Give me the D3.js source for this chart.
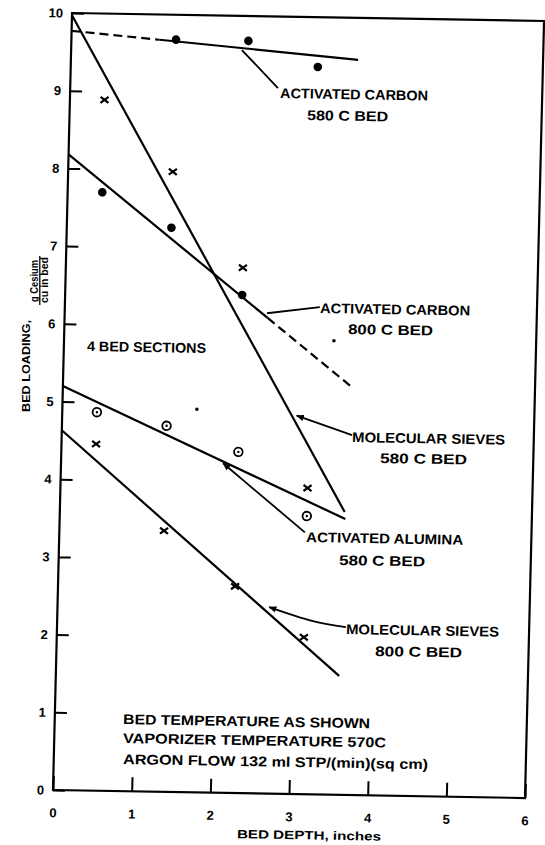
<!DOCTYPE html>
<html>
<head>
<meta charset="utf-8">
<script src="https://cdn.jsdelivr.net/npm/d3@7"></script>
<style>
body { margin: 0; background: #fff; }
text { font-family: "Liberation Sans", Arial, sans-serif; font-weight: bold; fill: #000; }
</style>
</head>
<body>
<div id="chart"></div>
<script>
// Bed section mid-depths (inches)
const depth = [0.44, 1.33, 2.25, 3.14];

// Bed loading, g Cesium / cu in bed (null = point not shown)
const carbon580 = [null, 9.68, 9.68, 9.36];
const carbon800 = [7.70, 7.26, 6.41, null];
const sieves580 = [8.89, 7.98, 6.76, 3.94];
const alumina580 = [4.87, 4.71, 4.39, 3.58];
const sieves800 = [4.46, 3.36, 2.66, 2.02];

// stray dots on the sheet
const strayX = [1.71, 3.43];
const strayY = [4.93, 5.84];

// drawn lines, [depth, loading] end points
const carbon580Dash = [[0, 9.77], [1.12, 9.675]];
const carbon580Line = [[1.12, 9.675], [3.65, 9.46]];
const carbon800Line = [[0, 8.18], [2.58, 6.12]];
const carbon800Dash = [[2.58, 6.12], [3.67, 5.25]];
const sieves580Line = [[0, 9.97], [3.62, 3.64]];
const alumina580Line = [[0, 5.20], [3.63, 3.55]];
const sieves800Line = [[0, 4.63], [3.60, 1.53]];

const xTicks = [0, 1, 2, 3, 4, 5, 6];
const yTicks = [0, 1, 2, 3, 4, 5, 6, 7, 8, 9, 10];

const W = 545, H = 845;
const pw = 472, ph = 777;

const svg = d3.select("#chart")
    .append("svg")
    .attr("width", W)
    .attr("height", H);

// the scanned sheet sits slightly askew
const g = svg.append("g")
    .attr("transform", `matrix(1,0.017,-0.0245,1,53,790) translate(0,${-ph})`);

const x = d3.scaleLinear().domain([0, 6]).range([0, pw]);
const y = d3.scaleLinear().domain([0, 10]).range([ph, 0]);

// frame
g.append("rect")
    .attr("width", pw)
    .attr("height", ph)
    .attr("fill", "none")
    .attr("stroke", "#000")
    .attr("stroke-width", 2.2);

// X Axis
g.append("g")
    .attr("transform", `translate(0,${ph})`)
    .call(d3.axisBottom(x).tickValues(xTicks).tickSize(-14).tickPadding(18).tickFormat(d3.format("d")))
    .call(a => a.select(".domain").remove())
    .call(a => a.selectAll("line").attr("stroke-width", 2))
    .selectAll("text").attr("font-size", 13);

// Y Axis
g.append("g")
    .call(d3.axisLeft(y).tickValues(yTicks).tickSize(-12).tickPadding(9).tickFormat(d3.format("d")))
    .call(a => a.select(".domain").remove())
    .call(a => a.selectAll("line").attr("stroke-width", 2))
    .selectAll("text").attr("font-size", 13);

// fitted lines
const line = d3.line().x(d => x(d[0])).y(d => y(d[1]));
[carbon580Line, carbon800Line, sieves580Line, alumina580Line, sieves800Line].forEach(l => {
    g.append("path").attr("d", line(l)).attr("fill", "none")
        .attr("stroke", "#000").attr("stroke-width", 2.2);
});
[carbon580Dash, carbon800Dash].forEach(l => {
    g.append("path").attr("d", line(l)).attr("fill", "none")
        .attr("stroke", "#000").attr("stroke-width", 2.2).attr("stroke-dasharray", "9,5");
});

// markers
const pts = arr => depth.map((d, i) => [d, arr[i]]).filter(p => p[1] != null);

function dots(arr) {
    g.selectAll(null).data(pts(arr)).enter().append("circle")
        .attr("cx", d => x(d[0])).attr("cy", d => y(d[1])).attr("r", 4.3).attr("fill", "#000");
}
function rings(arr) {
    const s = g.selectAll(null).data(pts(arr)).enter().append("g")
        .attr("transform", d => `translate(${x(d[0])},${y(d[1])})`);
    s.append("circle").attr("r", 4.3).attr("fill", "none").attr("stroke", "#000").attr("stroke-width", 1.8);
    s.append("circle").attr("r", 1.2).attr("fill", "#000");
}
function crosses(arr) {
    g.selectAll(null).data(pts(arr)).enter().append("path")
        .attr("transform", d => `translate(${x(d[0])},${y(d[1])})`)
        .attr("d", "M-4,-3L4,3M-4,3L4,-3")
        .attr("stroke", "#000").attr("stroke-width", 2.2).attr("fill", "none");
}
dots(carbon580);
dots(carbon800);
crosses(sieves580);
rings(alumina580);
crosses(sieves800);

g.selectAll(null).data(strayX).enter().append("circle")
    .attr("cx", d => x(d)).attr("cy", (d, i) => y(strayY[i])).attr("r", 1.8).attr("fill", "#000");

// arrow head
svg.append("defs").append("marker")
    .attr("id", "arrow").attr("viewBox", "0 0 10 10").attr("refX", 9).attr("refY", 5)
    .attr("markerWidth", 8).attr("markerHeight", 8).attr("markerUnits", "userSpaceOnUse")
    .attr("orient", "auto")
    .append("path").attr("d", "M0,1L10,5L0,9Z").attr("fill", "#000");

// leaders
const leaders = [
    { pts: [[2.17, 9.56], [2.64, 9.08]], arrow: false },
    { pts: [[3.24, 6.27], [2.57, 6.18]], arrow: false },
    { pts: [[3.69, 4.63], [2.98, 4.87]], arrow: true },
    { pts: [[3.12, 3.37], [2.06, 4.24]], arrow: true },
    { pts: [[3.67, 2.16], [3.25, 2.23], [2.69, 2.40]], arrow: true }
];
const lead = d3.line().x(d => x(d[0])).y(d => y(d[1])).curve(d3.curveCatmullRom);
leaders.forEach(l => {
    g.append("path").attr("d", lead(l.pts)).attr("fill", "none")
        .attr("stroke", "#000").attr("stroke-width", 1.8)
        .attr("marker-end", l.arrow ? "url(#arrow)" : null);
});

// labels: text, depth, loading, width
const labels = [
    ["ACTIVATED CARBON", 2.669, 8.952, 148],
    ["580 C BED", 3.019, 8.675, 81],
    ["ACTIVATED CARBON", 3.244, 6.195, 150],
    ["800 C BED", 3.606, 5.930, 85],
    ["MOLECULAR SIEVES", 3.691, 4.542, 153],
    ["580 C BED", 4.053, 4.278, 87],
    ["ACTIVATED ALUMINA", 3.138, 3.246, 157],
    ["580 C BED", 3.564, 2.957, 86],
    ["MOLECULAR SIEVES", 3.674, 2.071, 153],
    ["800 C BED", 4.05, 1.794, 87],
    ["4 BED SECTIONS", 0.295, 5.655, 119],
    ["BED TEMPERATURE AS SHOWN", 0.869, 0.864, 247],
    ["VAPORIZER TEMPERATURE 570C", 0.875, 0.620, 263],
    ["ARGON FLOW 132 ml STP/(min)(sq cm)", 0.881, 0.350, 305]
];
g.selectAll(null).data(labels).enter().append("text")
    .attr("x", d => x(d[1])).attr("y", d => y(d[2]))
    .attr("font-size", 14)
    .attr("textLength", d => d[3]).attr("lengthAdjust", "spacingAndGlyphs")
    .text(d => d[0]);

// axis titles
g.append("text")
    .attr("x", 257).attr("y", ph + 45)
    .attr("text-anchor", "middle").attr("font-size", 12)
    .attr("textLength", 144).attr("lengthAdjust", "spacingAndGlyphs")
    .text("BED DEPTH, inches");

const yt = svg.append("g");
yt.append("text")
    .attr("transform", "translate(30,366) rotate(-90)")
    .attr("text-anchor", "middle").attr("font-size", 11)
    .attr("textLength", 92).attr("lengthAdjust", "spacingAndGlyphs")
    .text("BED LOADING,");
yt.append("text")
    .attr("transform", "translate(37.5,281) rotate(-90)")
    .attr("text-anchor", "middle").attr("font-size", 10)
    .attr("textLength", 42).attr("lengthAdjust", "spacingAndGlyphs")
    .text("g Cesium");
yt.append("line")
    .attr("x1", 39.8).attr("x2", 39.8).attr("y1", 256).attr("y2", 305)
    .attr("stroke", "#000").attr("stroke-width", 1.3);
yt.append("text")
    .attr("transform", "translate(48,280) rotate(-90)")
    .attr("text-anchor", "middle").attr("font-size", 10)
    .attr("textLength", 46).attr("lengthAdjust", "spacingAndGlyphs")
    .text("cu in bed");
</script>
</body>
</html>
